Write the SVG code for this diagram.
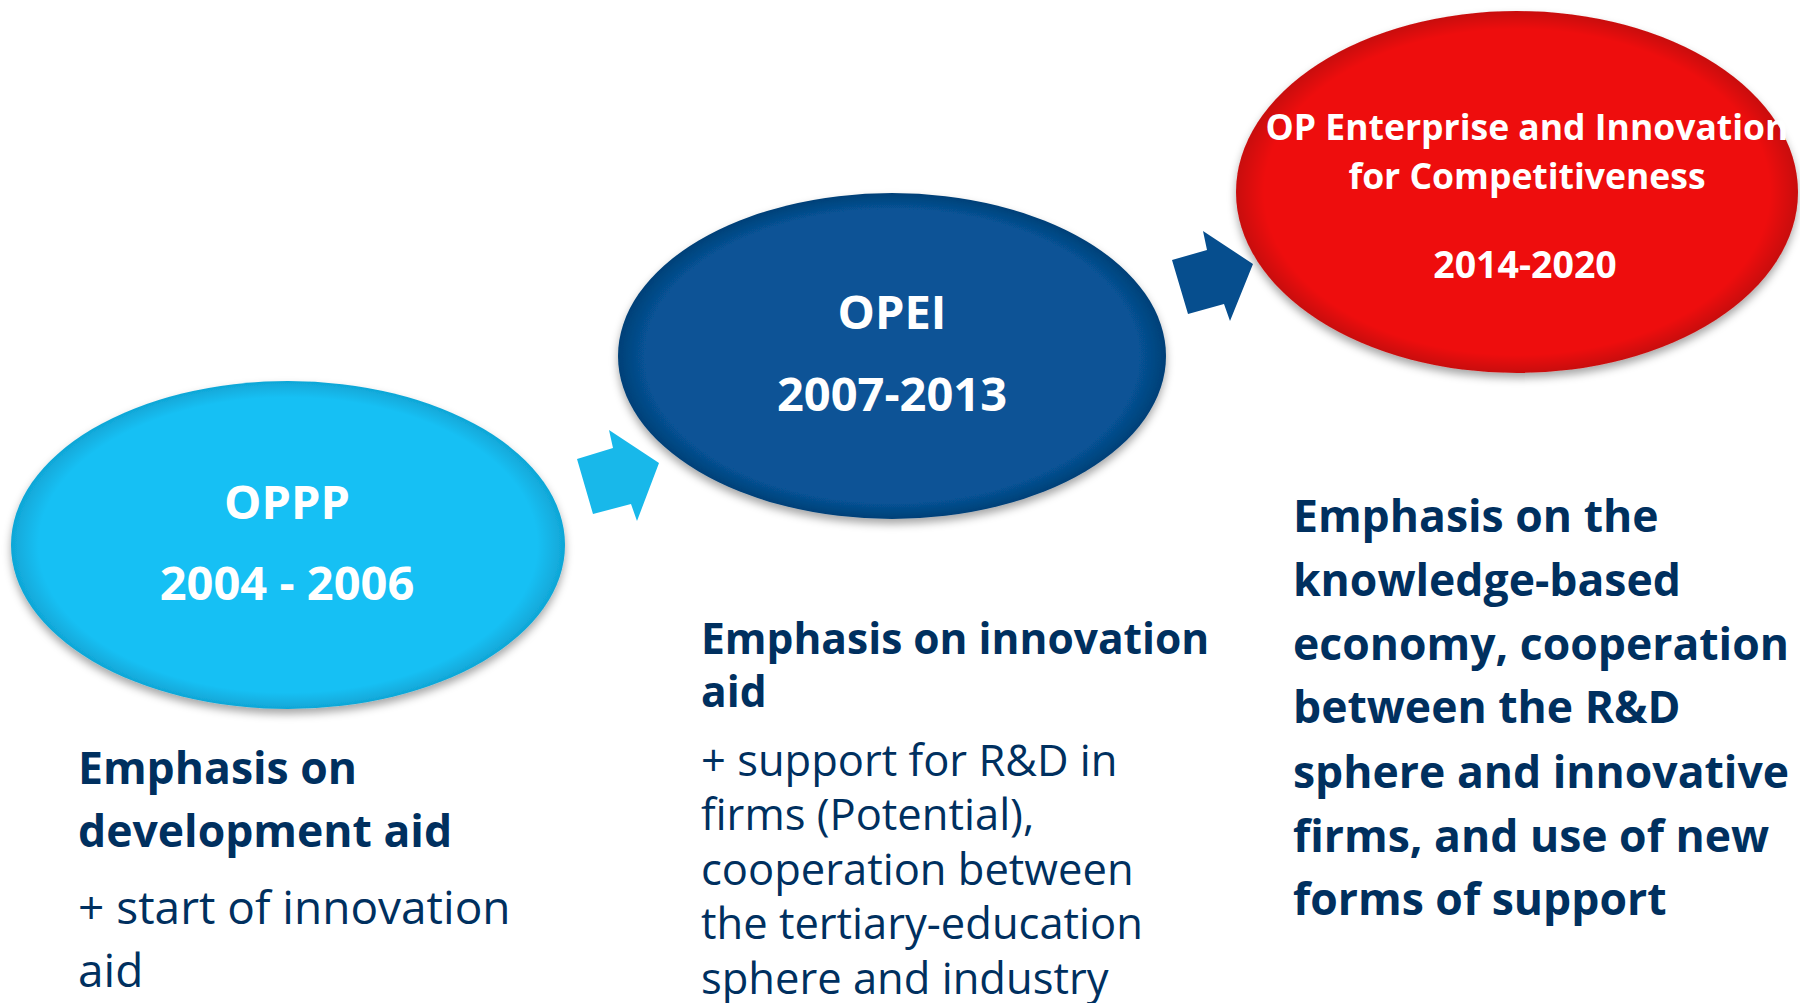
<svg xmlns="http://www.w3.org/2000/svg" width="1800" height="1003" viewBox="0 0 1800 1003">
  <defs>
    <filter id="shadow" x="-10%" y="-10%" width="120%" height="130%">
      <feGaussianBlur in="SourceAlpha" stdDeviation="4"/>
      <feOffset dx="0" dy="5" result="b"/>
      <feFlood flood-color="#000" flood-opacity="0.35"/>
      <feComposite in2="b" operator="in" result="s"/>
      <feMerge><feMergeNode in="s"/><feMergeNode in="SourceGraphic"/></feMerge>
    </filter>
    <radialGradient id="gCyan" cx="50%" cy="50%" r="50%">
      <stop offset="0.9" stop-color="#19C0F4"/>
      <stop offset="1" stop-color="#10A6D6"/>
    </radialGradient>
    <radialGradient id="gBlue" cx="50%" cy="50%" r="50%">
      <stop offset="0.9" stop-color="#075396"/>
      <stop offset="1" stop-color="#044077"/>
    </radialGradient>
    <radialGradient id="gRed" cx="50%" cy="50%" r="50%">
      <stop offset="0.9" stop-color="#EE1111"/>
      <stop offset="1" stop-color="#C80C0C"/>
    </radialGradient>
  </defs>
  <style>
    .etxt { font-family: "Open Sans", "Liberation Sans", sans-serif; font-weight: bold; fill: #FFFFFF; text-anchor: middle; }
    .b { font-family: "Open Sans", "Liberation Sans", sans-serif; font-weight: bold; fill: #00305F; }
    .r { font-family: "Open Sans", "Liberation Sans", sans-serif; font-weight: normal; fill: #00305F; }
  </style>

  <g id="connectors">
    <polygon id="arrow1" points="577,459 613,448 609,430 659,463 637,521 631,504 593,514" fill="#18B8EA"/>
    <polygon id="arrow2" points="1172,260 1207,250 1203,231 1253,264 1230,321 1224,304 1188,314" fill="#064E8E"/>
  </g>

  <g id="node-oppp">
    <ellipse cx="288" cy="545" rx="277" ry="164" fill="url(#gCyan)" filter="url(#shadow)"/>
    <text class="etxt" x="287" y="519" font-size="47">OPPP</text>
    <text class="etxt" x="287" y="600" font-size="47">2004 - 2006</text>
  </g>

  <g id="node-opei">
    <ellipse cx="892" cy="356" rx="274" ry="163" fill="url(#gBlue)" filter="url(#shadow)"/>
    <text class="etxt" x="892" y="329" font-size="47">OPEI</text>
    <text class="etxt" x="892" y="411" font-size="47">2007-2013</text>
  </g>

  <g id="node-opeic">
    <ellipse cx="1517" cy="192" rx="281" ry="181" fill="url(#gRed)" filter="url(#shadow)"/>
    <text class="etxt" x="1527" y="140" font-size="35.5">OP Enterprise and Innovation</text>
    <text class="etxt" x="1527" y="189" font-size="35.5">for Competitiveness</text>
    <text class="etxt" x="1525" y="278" font-size="37.5">2014-2020</text>
  </g>

  <g id="text-1">
    <text class="b" x="78" y="784" font-size="44.5">Emphasis on</text>
    <text class="b" x="78" y="847" font-size="44.5">development aid</text>
    <text class="r" x="78" y="924" font-size="46">+ start of innovation</text>
    <text class="r" x="78" y="987" font-size="46">aid</text>
  </g>

  <g id="text-2">
    <text class="b" x="701" y="654" font-size="42.5">Emphasis on innovation</text>
    <text class="b" x="701" y="707" font-size="42.5">aid</text>
    <text class="r" x="701" y="776" font-size="43.5">+ support for R&amp;D in</text>
    <text class="r" x="701" y="830" font-size="43.5">firms (Potential),</text>
    <text class="r" x="701" y="885" font-size="43.5">cooperation between</text>
    <text class="r" x="701" y="939" font-size="43.5">the tertiary-education</text>
    <text class="r" x="701" y="994" font-size="43.5">sphere and industry</text>
  </g>

  <g id="text-3">
    <text class="b" x="1293" y="532" font-size="44.5">Emphasis on the</text>
    <text class="b" x="1293" y="596" font-size="44.5">knowledge-based</text>
    <text class="b" x="1293" y="660" font-size="44.5">economy, cooperation</text>
    <text class="b" x="1293" y="723" font-size="44.5">between the R&amp;D</text>
    <text class="b" x="1293" y="788" font-size="44.5">sphere and innovative</text>
    <text class="b" x="1293" y="852" font-size="44.5">firms, and use of new</text>
    <text class="b" x="1293" y="915" font-size="44.5">forms of support</text>
  </g>
</svg>
